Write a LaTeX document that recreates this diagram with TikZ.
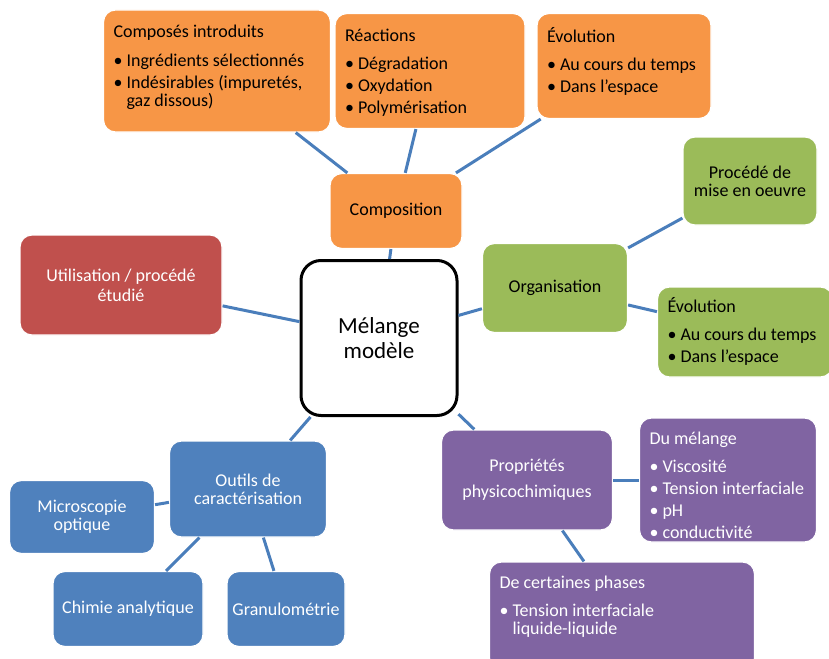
\documentclass[tikz,border=0pt]{standalone}
\usepackage{fontspec}
\setmainfont{Carlito}
\usepackage{tikz}
\definecolor{Orange}{HTML}{F79646}
\definecolor{Vert}{HTML}{9BBB59}
\definecolor{Rouge}{HTML}{C0504D}
\definecolor{Bleu}{HTML}{4F81BD}
\definecolor{Violet}{HTML}{8064A2}
\definecolor{Trait}{HTML}{4A7EBB}

\begin{document}
\begin{tikzpicture}[
  x=1pt,y=-1pt,
  font=\fontsize{18}{18}\selectfont,
  boite/.style={draw=white,line width=1.2pt,rounded corners=12pt,align=center,inner sep=0pt},
  liste/.style={draw=white,line width=1.2pt,rounded corners=12pt,inner xsep=10pt,inner ysep=14pt},
  lien/.style={Trait,line width=3pt}
]
  \useasboundingbox (0,0) rectangle (829,658);

  % Noeud central.
  \node[draw=black,line width=3pt,rounded corners=20pt,fill=white,align=center,
        minimum width=156,minimum height=155,font=\fontsize{23}{25}\selectfont]
    (melange) at (379,338) {Mélange\\modèle};

  % Branche composition.
  \node[boite,fill=Orange,minimum width=132,minimum height=75] (composition) at (396,211)
    {Composition};
  \node[liste,inner ysep=15pt,fill=Orange] (composes) at (217,71)
    {\parbox[c][92pt][t]{207pt}{Composés introduits\\[11pt]
     • Ingrédients sélectionnés\\[4pt]
     • Indésirables (impuretés,\\
     \hphantom{• }gaz dissous)}};
  \node[liste,inner ysep=16pt,fill=Orange] (reactions) at (430,71)
    {\parbox[c][83pt][t]{170pt}{Réactions\\[10pt]
     • Dégradation\\[4pt]
     • Oxydation\\[4pt]
     • Polymérisation}};
  \node[liste,fill=Orange] (evolcompo) at (624,66)
    {\parbox[c][77pt][t]{154pt}{Évolution\\[10pt]
     • Au cours du temps\\[4pt]
     • Dans l’espace}};

  % Branche utilisation.
  \node[boite,fill=Rouge,text=white,minimum width=202,minimum height=100,
        font=\fontsize{18}{20}\selectfont] (utilisation) at (121,285)
    {Utilisation / procédé\\étudié};

  % Branche organisation.
  \node[boite,fill=Vert,minimum width=145,minimum height=89] (organisation) at (555,288)
    {Organisation};
  \node[boite,fill=Vert,minimum width=134,minimum height=88] (procede) at (750,181)
    {Procédé de\\mise en oeuvre};
  \node[liste,inner ysep=10pt,fill=Vert] (evolorga) at (745,332)
    {\parbox[c][70pt][t]{155pt}{Évolution\\[10pt]
     • Au cours du temps\\[4pt]
     • Dans l’espace}};

  % Branche propriétés.
  \node[boite,fill=Violet,text=white,minimum width=171,minimum height=100,
        font=\fontsize{18}{26}\selectfont] (proprietes) at (527,480)
    {Propriétés\\physicochimiques};
  \node[liste,fill=Violet,text=white] (dumelange) at (728,480)
    {\parbox[c][96pt][t]{157pt}{Du mélange\\[10pt]
     • Viscosité\\[4pt]
     • Tension interfaciale\\[4pt]
     • pH\\[4pt]
     • conductivité}};
  \node[liste,fill=Violet,text=white] (phases) at (622,616)
    {\parbox[c][80pt][t]{245pt}{De certaines phases\\[10pt]
     • Tension interfaciale\\
     \hphantom{• }liquide-liquide}};

  % Branche outils.
  \node[boite,fill=Bleu,text=white,minimum width=157,minimum height=96] (outils) at (248,489)
    {Outils de\\caractérisation};
  \node[boite,fill=Bleu,text=white,minimum width=145,minimum height=73] (microscopie) at (82,517)
    {Microscopie\\optique};
  \node[boite,fill=Bleu,text=white,minimum width=150,minimum height=75] (chimie) at (128,609)
    {Chimie analytique};
  \node[boite,fill=Bleu,text=white,minimum width=118,minimum height=75] (granulo) at (286,609)
    {Granulométrie};

  % Liens.
  \draw[lien] (melange) -- (composition);
  \draw[lien] (composition) -- (composes);
  \draw[lien] (composition) -- (reactions);
  \draw[lien] (composition) -- (evolcompo);
  \draw[lien] (melange) -- (utilisation);
  \draw[lien] (melange) -- (organisation);
  \draw[lien] (organisation) -- (procede);
  \draw[lien] (organisation) -- (evolorga);
  \draw[lien] (melange) -- (proprietes);
  \draw[lien] (proprietes) -- (dumelange);
  \draw[lien] (proprietes) -- (phases);
  \draw[lien] (melange) -- (outils);
  \draw[lien] (outils) -- (microscopie);
  \draw[lien] (outils) -- (chimie);
  \draw[lien] (outils) -- (granulo);
\end{tikzpicture}
\end{document}
